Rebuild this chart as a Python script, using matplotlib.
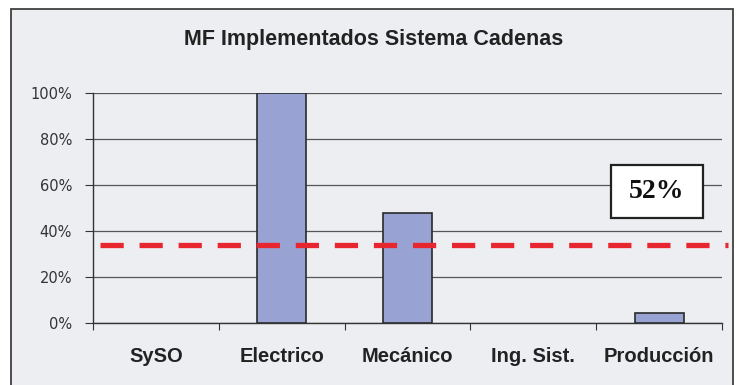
import matplotlib
matplotlib.use('Agg')
import matplotlib.pyplot as plt
from matplotlib.patches import Rectangle

plt.rcParams['font.family'] = ['Liberation Sans', 'DejaVu Sans']

categories = ['SySO', 'Electrico', 'Mecánico', 'Ing. Sist.', 'Producción']
values = [0, 100, 48, 0, 4.5]
target = 34
yticks = [0, 20, 40, 60, 80, 100]
ytick_labels = ['0%', '20%', '40%', '60%', '80%', '100%']
title = 'MF Implementados Sistema Cadenas'
box_text = '52%'

W, H = 739, 385
fig = plt.figure(figsize=(W / 100, H / 100), dpi=100)
fig.patch.set_facecolor('white')

# outer chart frame with light grey background
frame = Rectangle((11 / W, -0.02), 722 / W, 1 - 9 / H + 0.02,
                  transform=fig.transFigure, facecolor='#eceef2',
                  edgecolor='#404040', linewidth=1.3, zorder=-1)
fig.patches.append(frame)

ax = fig.add_axes([93 / W, 1 - 323 / H, (722 - 93) / W, (323 - 93) / H])
ax.set_facecolor('none')
ax.set_zorder(1)

x = range(len(categories))
ax.bar(x, values, width=0.39, color='#98a2d3', edgecolor='#2a2a2a',
       linewidth=[1.2 if v > 0 else 0 for v in values], zorder=3)

ax.set_xlim(-0.5, len(categories) - 0.5)
ax.set_ylim(0, 100)
ax.set_yticks(yticks)
ax.set_yticklabels(ytick_labels, fontsize=10.5, color='#333333',
                   family='DejaVu Sans')
ax.grid(axis='y', color='#555555', linewidth=0.9, zorder=1)

ax.set_xticks([i - 0.5 for i in range(len(categories) + 1)])
ax.set_xticklabels([])
ax.set_xticks(list(x), minor=True)
ax.set_xticklabels(categories, minor=True, fontsize=14.5, fontweight='bold',
                   color='#222222')
ax.tick_params(axis='x', which='major', length=5, color='#333333')
ax.tick_params(axis='x', which='minor', length=0, pad=17)
ax.tick_params(axis='y', length=6, color='#333333', pad=9)

for s in ['top', 'right']:
    ax.spines[s].set_visible(False)
for s in ['left', 'bottom']:
    ax.spines[s].set_color('#333333')
    ax.spines[s].set_linewidth(1.0)

# dashed target line, runs slightly past the plot area
ax.plot([-0.444, 4.548], [target, target], color='#e8262f', linewidth=3.8,
        linestyle=(0, (4.4, 3.0)), clip_on=False, zorder=4)

fig.text(373.5 / W, 1 - 40 / H, title, ha='center',
         va='center', fontsize=15.5, fontweight='bold', color='#222222')

box = Rectangle((611 / W, 1 - 218 / H), 92 / W, 53 / H,
                transform=fig.transFigure, facecolor='white',
                edgecolor='#222222', linewidth=1.6, zorder=5)
fig.patches.append(box)
fig.text(657 / W, 1 - 192 / H, box_text, ha='center', va='center',
         fontsize=20, fontweight='bold', family='Liberation Serif',
         color='#111111', zorder=6)

fig.savefig('out.png', dpi=100, facecolor='white')
